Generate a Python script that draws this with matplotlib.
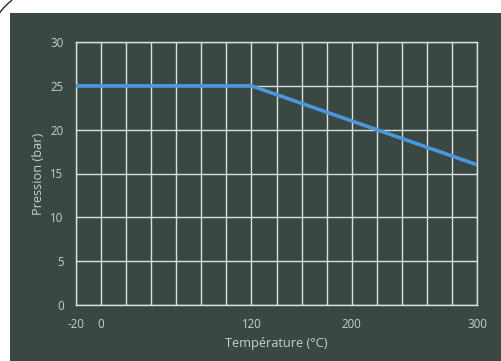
import matplotlib
matplotlib.use("Agg")
import matplotlib.pyplot as plt
from matplotlib.patches import Rectangle, Arc

# data
temperature = [-20, 120, 300]
pression = [25, 25, 16]
xticks = [-20, 0, 120, 200, 300]
yticks = [0, 5, 10, 15, 20, 25, 30]

bg = "#3a4742"
txt = "#c9cfcc"
grid = "#dde1de"
blue = "#4a98dc"

plt.rcParams['font.family'] = ['Open Sans', 'DejaVu Sans']
plt.rcParams['axes.unicode_minus'] = False

fig = plt.figure(figsize=(5.01, 3.61), dpi=100)
fig.patch.set_facecolor("white")

# dark panel behind the chart
fig.add_artist(Rectangle((10 / 501, 0), 491 / 501, 348 / 361,
                         transform=fig.transFigure, facecolor=bg,
                         edgecolor="none", zorder=-10))
# little rounded corner mark at top left
fig.add_artist(Arc((46 / 501, 1 - 46 / 361), 114 / 501, 114 / 361,
                   theta1=118, theta2=150, transform=fig.transFigure,
                   color="#2a2a2a", lw=1.0, zorder=-5))

ax = fig.add_axes([76 / 501, 56 / 361, 401 / 501, 263 / 361])
ax.set_facecolor(bg)

ax.plot(temperature, pression, color=blue, lw=2.6, solid_capstyle="butt", zorder=3)

ax.set_xlim(-20, 300)
ax.set_ylim(0, 30)
ax.set_xticks(range(-20, 301, 20), minor=True)
ax.set_xticks(xticks)
ax.set_yticks(yticks)
ax.grid(True, which="both", color=grid, lw=1.0)
ax.tick_params(which="both", length=0, colors=txt, labelsize=8.3, pad=9)
for s in ax.spines.values():
    s.set_color(grid)
    s.set_linewidth(1.0)

ax.set_xlabel("Température (°C)", color=txt, fontsize=9.2, labelpad=5)
ax.set_ylabel("Pression (bar)", color=txt, fontsize=9.2, labelpad=4)

fig.savefig("out.png", dpi=100)
